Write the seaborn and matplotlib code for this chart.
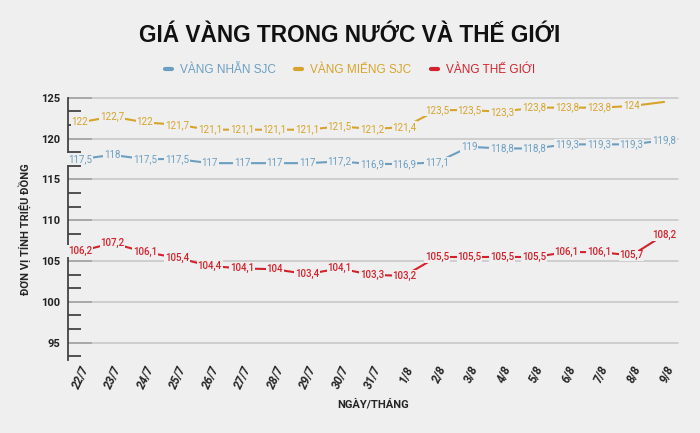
import pandas as pd
import seaborn as sns
import matplotlib.pyplot as plt
from matplotlib.ticker import MultipleLocator

# Dữ liệu (triệu đồng/lượng)
ngay = ['22/7', '23/7', '24/7', '25/7', '26/7', '27/7', '28/7', '29/7', '30/7', '31/7',
        '1/8', '2/8', '3/8', '4/8', '5/8', '6/8', '7/8', '8/8', '9/8']
vang_nhan = [117.5, 118, 117.5, 117.5, 117, 117, 117, 117, 117.2, 116.9,
             116.9, 117.1, 119, 118.8, 118.8, 119.3, 119.3, 119.3, 119.8]
vang_mieng = [122, 122.7, 122, 121.7, 121.1, 121.1, 121.1, 121.1, 121.5, 121.2,
              121.4, 123.5, 123.5, 123.3, 123.8, 123.8, 123.8, 124, 124.5]
vang_the_gioi = [106.2, 107.2, 106.1, 105.4, 104.4, 104.1, 104, 103.4, 104.1, 103.3,
                 103.2, 105.5, 105.5, 105.5, 105.5, 106.1, 106.1, 105.7, 108.2]
# điểm cuối của vàng miếng không có nhãn trên hình gốc
mieng_co_nhan = [True] * 18 + [False]

ten = ['VÀNG NHẪN SJC', 'VÀNG MIẾNG SJC', 'VÀNG THẾ GIỚI']
mau = {'VÀNG NHẪN SJC': '#6b9fc2', 'VÀNG MIẾNG SJC': '#d6a42a', 'VÀNG THẾ GIỚI': '#d4212b'}

nen = '#efefef'
hep = ['Roboto', 'DejaVu Sans']

sns.set_style('white')
plt.rcParams['font.family'] = ['Liberation Sans', 'DejaVu Sans']

df = pd.concat([
    pd.DataFrame({'x': range(len(ngay)), 'gia': vang_nhan, 'loai': ten[0], 'nhan': True}),
    pd.DataFrame({'x': range(len(ngay)), 'gia': vang_mieng, 'loai': ten[1], 'nhan': mieng_co_nhan}),
    pd.DataFrame({'x': range(len(ngay)), 'gia': vang_the_gioi, 'loai': ten[2], 'nhan': True}),
])

fig = plt.figure(figsize=(7, 4.33), dpi=100, facecolor=nen)
ax = fig.add_axes([0.097, 0.169, 0.873, 0.605])
ax.set_facecolor(nen)

ax.set_xlim(-0.37, 18.46)
ax.set_ylim(92.9, 125)
ax.yaxis.set_major_locator(MultipleLocator(5))
ax.yaxis.set_minor_locator(MultipleLocator(5 / 3))

# lưới ngang tại các vạch chính, nằm gọn trong vùng vẽ
x0, x1 = ax.get_xlim()
for v in range(95, 126, 5):
    ax.plot([x0 + 0.02, x1 - 0.02], [v - 0.02 if v == 125 else v] * 2, color='#c4c4c4',
            linewidth=1.1, zorder=1.8, clip_on=False)

sns.lineplot(data=df, x='x', y='gia', hue='loai', palette=mau, hue_order=ten,
             linewidth=1.5, legend=False, errorbar=None, ax=ax)
ax.set_xlim(x0, x1)
ax.set_ylim(92.9, 125)

# nhãn giá trị đè lên đường
for _, r in df[df['nhan']].iterrows():
    ax.text(r['x'], r['gia'], f"{r['gia']:g}".replace('.', ','), ha='center', va='center',
            fontsize=7, color=mau[r['loai']], family=hep, fontstretch='condensed',
            fontweight='medium' if r['loai'] == ten[2] else 'normal', zorder=5,
            bbox=dict(boxstyle='square,pad=0.08', fc=nen, ec='none'))

for s in ['top', 'right', 'bottom']:
    ax.spines[s].set_visible(False)
ax.spines['left'].set_color('#444444')
ax.spines['left'].set_linewidth(1.3)

ax.tick_params(axis='y', which='both', left=True)
ax.tick_params(axis='y', which='major', direction='in', length=17, width=1.3,
               color='#444444', pad=5.5)
ax.tick_params(axis='y', which='minor', direction='in', length=9, width=1.3,
               color='#444444')
ax.tick_params(axis='x', length=0, pad=3)
for t in ax.get_yticklabels():
    t.set_fontweight('bold')
    t.set_fontsize(8)
    t.set_family(hep)
    t.set_color('#222222')

ax.set_xticks(range(len(ngay)))
ax.set_xticklabels(ngay, rotation=65, ha='right', rotation_mode='anchor',
                   fontsize=8.5, fontweight='bold', fontstyle='italic', family=hep)

ax.set_xlabel('NGÀY/THÁNG', fontsize=8, fontweight='bold', family=hep, labelpad=6)
ax.set_ylabel('ĐƠN VỊ TÍNH TRIỆU ĐỒNG', fontsize=8, fontweight='bold', family=hep,
              labelpad=7)

fig.text(0.5, 0.918, 'GIÁ VÀNG TRONG NƯỚC VÀ THẾ GIỚI', ha='center', va='center',
         fontsize=16.3, fontweight='bold', color='#111111')

handles = ax.get_lines()[-3:]
fig.legend(handles, ten, loc='center', bbox_to_anchor=(0.5, 0.838), ncol=3,
           frameon=False, fontsize=8.5, handlelength=0.6, handletextpad=0.7,
           columnspacing=1.6, labelcolor='linecolor')
for h in fig.legends[0].get_lines():
    h.set_linewidth(3)

fig.savefig('out.png', dpi=100, facecolor=nen)
